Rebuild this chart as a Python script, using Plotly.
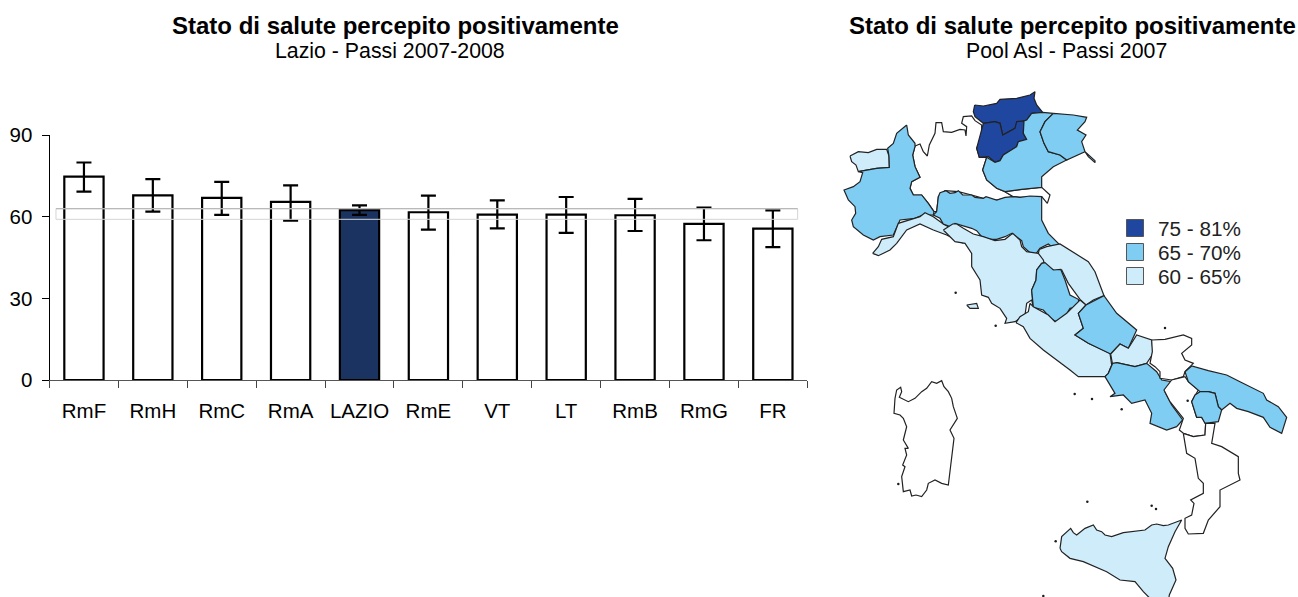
import plotly.graph_objects as go

FONT = "Liberation Sans"
W, H = 1298, 597

# ---- bar chart data ----
categories = ["RmF", "RmH", "RmC", "RmA", "LAZIO", "RmE", "VT", "LT", "RmB", "RmG", "FR"]
values = [74.8, 67.9, 67.0, 65.5, 62.5, 61.7, 60.8, 60.8, 60.6, 57.4, 55.7]
ci_high = [80.0, 73.9, 72.9, 71.6, 64.2, 67.8, 66.1, 67.3, 66.6, 63.4, 62.4]
ci_low = [69.3, 61.9, 60.7, 58.6, 60.7, 55.3, 55.8, 54.1, 54.8, 51.4, 48.9]
y_ticks = [0, 30, 60, 90]
band_low, band_high = 59.1, 63.0
band_from, band_to = -0.406, 10.36

legend_labels = ["75 - 81%", "65 - 70%", "60 - 65%"]
DARK, MID, LIGHT, NONE = "#1f479f", "#7fcdf3", "#cfecfb", "#ffffff"

# ---- map outlines, traced on sheets; each sheet has its own origin on the map ----
SHEET_A = (840, 80)
SHEET_B = (980, 200)
SHEET_C = (880, 370)
SHEET_D = (930, 220)
SHEET_E = (1150, 330)
SHEET_F = (1020, 520)

lombardia = [(225,198),(240,192),(250,215),(262,228),(268,195),(285,160),(288,128),(305,128),(310,155),(335,157),(360,148),(375,150),(378,168),(380,140),(365,130),(370,110),(395,108),(405,122),(425,135),(425,170),(410,205),(418,232),(440,232),(428,270),(440,300),(470,325),(495,335),(520,350),(470,360),(430,355),(395,345),(355,335),(315,332),(295,350),(290,395),(282,395),(265,370),(245,345),(220,345),(210,325),(215,305),(240,292),(225,260),(218,225)]
rovigo = [(495,335),(545,328),(605,322),(630,345),(622,370),(605,350),(540,352),(520,350)]
aosta = [(30,228),(55,215),(85,218),(110,208),(140,208),(147,228),(148,262),(110,265),(80,270),(55,275),(48,255),(35,245)]
piemonte = [(200,135),(205,165),(225,190),(225,200),(218,225),(225,260),(240,292),(215,305),(210,325),(220,345),(245,345),(265,370),(282,395),(280,405),(248,405),(225,415),(180,420),(160,465),(120,470),(100,480),(70,465),(40,440),(35,420),(47,400),(45,380),(25,360),(12,330),(40,320),(60,305),(68,278),(55,275),(80,270),(110,265),(148,262),(147,228),(143,205),(160,190),(170,160)]
liguria = [(98,520),(115,500),(125,478),(160,470),(175,430),(205,420),(240,410),(255,398),(280,410),(310,432),(325,440),(345,470),(370,490),(345,478),(320,465),(280,450),(240,432),(200,450),(170,490),(150,510),(115,527)]
bolzano = [(404,75),(430,78),(470,70),(480,58),(530,55),(570,45),(585,35),(582,55),(590,75),(608,97),(575,100),(560,120),(530,130),(525,145),(488,165),(480,130),(465,125),(430,130),(405,110),(400,95)]
trento = [(430,130),(465,125),(480,130),(488,165),(525,145),(530,125),(552,123),(550,160),(560,178),(535,185),(530,200),(490,225),(480,242),(465,247),(445,230),(418,232),(410,205),(420,170),(425,145)]
veneto = [(575,100),(608,97),(640,100),(615,125),(600,155),(612,190),(625,215),(660,225),(680,240),(640,260),(605,290),(605,322),(545,328),(495,335),(470,325),(440,300),(428,270),(440,232),(465,247),(480,242),(490,225),(530,200),(535,185),(560,178),(550,160),(552,123),(560,120)]
friuli = [(640,100),(700,105),(740,112),(735,125),(712,150),(738,165),(725,185),(735,215),(765,242),(765,248),(745,230),(735,215),(680,240),(660,225),(625,215),(612,190),(600,155),(615,125)]
emilia = [(290,395),(295,350),(300,338),(318,332),(330,340),(345,338),(355,332),(368,345),(395,345),(405,352),(430,355),(438,350),(470,360),(495,352),(520,350),(540,352),(570,348),(605,350),(605,420),(625,460),(660,495),(650,512),(625,492),(600,505),(585,525),(570,518),(550,500),(545,482),(515,460),(495,470),(470,478),(440,478),(425,470),(410,452),(395,445),(360,435),(345,430),(330,440),(310,432),(300,415),(280,405)]
toscana = [(40,30),(75,65),(105,70),(125,100),(125,140),(150,180),(155,225),(175,232),(185,250),(210,265),(230,295),(225,310),(255,305),(262,300),(285,285),(290,250),(305,240),(310,262),(305,210),(318,180),(320,150),(335,130),(345,128),(335,100),(325,100),(290,95),(275,80),(270,60),(248,40),(225,58),(195,62),(160,50),(130,42),(100,25),(80,12),(68,12)]
elba = [(110,255),(140,250),(145,265),(120,265)]
umbria = [(335,130),(345,128),(370,150),(392,148),(405,180),(420,225),(445,238),(450,260),(420,265),(405,290),(380,305),(365,298),(340,270),(310,262),(305,210),(318,180),(320,150)]
marche = [(178,148),(200,140),(240,132),(325,185),(345,215),(372,287),(340,300),(318,315),(300,298),(265,250),(245,210),(225,212),(195,198),(190,180),(175,160)]
lazio = [(108,368),(120,350),(145,335),(150,310),(160,320),(205,345),(225,365),(260,340),(300,300),(318,315),(295,340),(310,385),(285,405),(325,430),(390,460),(395,495),(385,520),(375,530),(340,530),(295,530),(270,510),(215,470),(190,450),(150,415),(130,380)]
abruzzo = [(318,315),(372,287),(410,340),(470,390),(445,445),(420,432),(392,462),(325,430),(285,405),(310,385),(295,340)]
molise = [(392,462),(420,432),(445,445),(470,405),(515,420),(520,460),(500,490),(465,500),(410,488),(398,495)]
campania = [(375,530),(385,520),(398,490),(410,488),(465,500),(500,490),(530,515),(545,540),(575,545),(555,575),(575,615),(608,660),(590,680),(560,690),(510,670),(515,640),(495,600),(455,610),(430,585),(390,590),(405,580)]
puglia = [(105,125),(125,108),(175,122),(230,135),(270,155),(340,190),(350,210),(385,230),(410,262),(395,310),(360,292),(340,262),(295,245),(260,235),(240,220),(215,240),(205,230),(195,190),(175,185),(150,185),(115,155)]
taranto = [(150,185),(175,185),(195,190),(205,230),(215,240),(205,275),(165,280),(155,262),(140,262),(125,215),(135,195)]
foggia = [(5,30),(45,28),(100,15),(125,25),(125,45),(95,70),(105,90),(130,100),(105,125),(100,140),(65,150),(30,145),(30,125),(15,110),(0,100),(7,65)]
basilicata = [(65,150),(105,140),(115,155),(145,180),(125,215),(140,262),(155,262),(167,280),(165,315),(130,320),(100,310),(88,300),(100,265),(75,235),(60,215),(42,180)]
calabria = [(100,310),(130,320),(165,315),(167,280),(195,280),(185,340),(215,350),(265,380),(265,430),(270,450),(210,480),(210,530),(175,570),(160,610),(115,612),(105,595),(105,565),(125,555),(132,520),(122,510),(160,490),(160,460),(145,445),(135,385),(110,370)]
sicilia = [(120,85),(125,50),(152,25),(160,38),(170,45),(195,25),(220,15),(230,30),(245,35),(255,45),(275,50),(310,38),(375,30),(395,15),(410,12),(430,17),(445,15),(485,0),(465,35),(445,80),(435,115),(458,145),(468,180),(448,225),(445,245),(400,245),(370,215),(345,185),(300,180),(260,155),(190,125),(150,115),(125,95)]
sardegna = [(45,85),(50,60),(62,52),(65,65),(58,82),(85,95),(105,85),(125,65),(140,55),(155,35),(170,40),(185,32),(192,50),(205,65),(215,85),(220,110),(232,145),(220,165),(210,180),(222,205),(218,240),(215,270),(210,320),(205,345),(185,340),(165,330),(145,340),(140,360),(125,380),(108,375),(95,378),(90,360),(70,365),(65,320),(75,290),(68,285),(80,255),(75,235),(85,235),(70,210),(80,170),(70,145),(60,135),(42,130)]
islets = [(584,72),(636,87),(725,118),(622,395),(815,407),(828,417),(527,514),(55,342),(347,-133),(227,-232),(855,-126),(923,92),(490,678)]

map_regions = [
    (lombardia, SHEET_A, NONE), (rovigo, SHEET_A, NONE), (aosta, SHEET_A, LIGHT),
    (piemonte, SHEET_A, MID), (liguria, SHEET_A, LIGHT), (bolzano, SHEET_A, DARK),
    (trento, SHEET_A, DARK), (veneto, SHEET_A, MID), (friuli, SHEET_A, MID),
    (emilia, SHEET_A, MID), (toscana, SHEET_D, LIGHT), (elba, SHEET_D, LIGHT),
    (marche, SHEET_B, LIGHT), (umbria, SHEET_D, MID), (lazio, SHEET_B, LIGHT),
    (abruzzo, SHEET_B, MID), (molise, SHEET_B, LIGHT), (campania, SHEET_B, MID),
    (foggia, SHEET_E, NONE), (basilicata, SHEET_E, NONE), (puglia, SHEET_E, MID),
    (taranto, SHEET_E, MID), (calabria, SHEET_E, NONE), (sicilia, SHEET_F, LIGHT),
    (sardegna, SHEET_C, NONE),
]

legend_x = 1135
legend_text_x = 1155.5
legend_y = [228, 252, 276]
legend_colors = [DARK, MID, LIGHT]

fig = go.Figure()

# ---- bars ----
fig.add_trace(go.Bar(
    x=categories, y=values, width=0.57,
    marker=dict(color=["#1a3360" if c == "LAZIO" else "#ffffff" for c in categories],
                line=dict(color="#000000", width=2.2)),
    error_y=dict(type="data", symmetric=False,
                 array=[h - v for h, v in zip(ci_high, values)],
                 arrayminus=[v - l for v, l in zip(values, ci_low)],
                 color="#000000", thickness=2.2, width=7.5),
    hoverinfo="skip", showlegend=False, xaxis="x", yaxis="y",
))

# ---- map ----
for poly, origin, color in map_regions:
    fig.add_trace(go.Scatter(
        x=[px / 3 + origin[0] for px, _ in poly] + [poly[0][0] / 3 + origin[0]],
        y=[py / 3 + origin[1] for _, py in poly] + [poly[0][1] / 3 + origin[1]],
        mode="lines", fill="toself", fillcolor=color,
        line=dict(color="#222222", width=1.2),
        hoverinfo="skip", showlegend=False, xaxis="x2", yaxis="y2",
    ))
fig.add_trace(go.Scatter(
    x=[px / 3 + SHEET_C[0] for px, _ in islets],
    y=[py / 3 + SHEET_C[1] for _, py in islets],
    mode="markers", marker=dict(color="#1c1c1c", size=2.5),
    hoverinfo="skip", showlegend=False, xaxis="x2", yaxis="y2",
))
fig.add_trace(go.Scatter(
    x=[legend_x] * 3, y=legend_y, mode="markers",
    marker=dict(symbol="square", size=17, color=legend_colors, line=dict(color="#555555", width=1)),
    hoverinfo="skip", showlegend=False, xaxis="x2", yaxis="y2",
))

annotations = []
for lab, y in zip(legend_labels, legend_y):
    annotations.append(dict(text=lab, x=legend_text_x, y=y, xref="x2", yref="y2",
                            xanchor="left", yanchor="middle", showarrow=False,
                            font=dict(family=FONT, size=20.7, color="#222222")))
titles = [
    ("<b>Stato di salute percepito positivamente</b>", 395.5, 25.5, 24),
    ("Lazio - Passi 2007-2008", 389.5, 51, 21.3),
    ("<b>Stato di salute percepito positivamente</b>", 1072, 25.5, 24),
    ("Pool Asl - Passi 2007", 1066, 51, 21.3),
]
for t, x, y, s in titles:
    annotations.append(dict(text=t, x=x, y=y, xref="x2", yref="y2", xanchor="center",
                            yanchor="middle", showarrow=False,
                            font=dict(family=FONT, size=s, color="#000000")))

fig.update_layout(
    width=W, height=H, margin=dict(l=0, r=0, t=0, b=0, pad=0, autoexpand=False),
    paper_bgcolor="#ffffff", plot_bgcolor="rgba(0,0,0,0)",
    font=dict(family=FONT, color="#000000"),
    showlegend=False, annotations=annotations,
    xaxis=dict(domain=[49.5 / W, 807.3 / W], type="category", range=[-0.5, 10.5],
               categoryorder="array", categoryarray=categories,
               tickson="boundaries", ticks="outside", ticklen=7, tickcolor="#444444",
               showline=True, linecolor="#555555", linewidth=1, showgrid=False,
               tickfont=dict(family=FONT, size=20.5), tickangle=0, zeroline=False,
               ticklabelstandoff=12),
    yaxis=dict(domain=[(H - 380) / H, (H - 135.3) / H], range=[0, 90], tickvals=y_ticks,
               ticks="outside", ticklen=7, tickcolor="#000000", showline=True,
               linecolor="#000000", linewidth=1, showgrid=False, zeroline=False,
               tickfont=dict(family=FONT, size=20.5), ticklabelstandoff=5),
    xaxis2=dict(domain=[0, 1], range=[0, W], visible=False, anchor="y2", fixedrange=True),
    yaxis2=dict(domain=[0, 1], range=[H, 0], visible=False, anchor="x2", fixedrange=True),
    shapes=[
        dict(type="rect", xref="x", yref="y", x0=band_from, x1=band_to, y0=band_low, y1=band_high,
             line=dict(color="#d4d4d4", width=1), fillcolor="rgba(0,0,0,0)", layer="above"),
        dict(type="line", xref="x", yref="y", x0=band_from, x1=band_to, y0=band_high, y1=band_high,
             line=dict(color="#b0b0b0", width=1), layer="above"),
    ],
)

fig.write_html("out.html", config=dict(displayModeBar=False),
               post_script="document.body.style.margin='0';")
